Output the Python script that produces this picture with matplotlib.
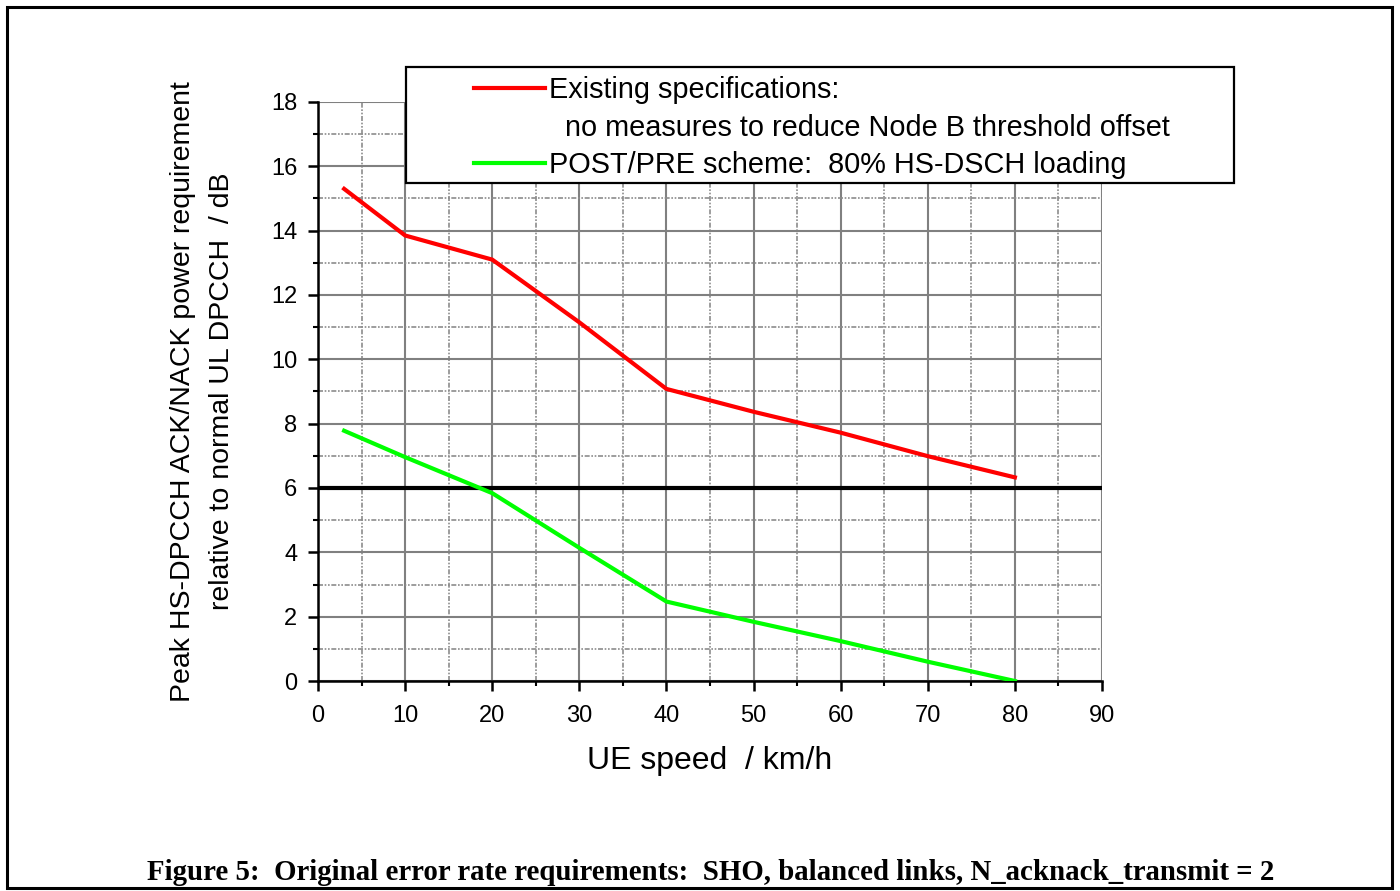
import matplotlib
matplotlib.use("Agg")
import matplotlib.pyplot as plt
from matplotlib.lines import Line2D
from matplotlib.patches import Rectangle
from matplotlib.ticker import MultipleLocator

plt.rcParams["font.family"] = ["Liberation Sans", "DejaVu Sans"]

# UE speed (km/h) and peak HS-DPCCH ACK/NACK power offset (dB)
speed = [3, 10, 20, 30, 40, 50, 60, 70, 80]
existing_spec = [15.3, 13.85, 13.1, 11.15, 9.08, 8.37, 7.72, 6.99, 6.33]
post_pre = [7.78, 6.96, 5.84, 4.14, 2.47, 1.84, 1.24, 0.6, 0.0]
threshold_db = 6

labels = [
    "Existing specifications:",
    "  no measures to reduce Node B threshold offset",
    "POST/PRE scheme:  80% HS-DSCH loading",
]
caption = ("Figure 5:  Original error rate requirements:  SHO, balanced links, "
           "N_acknack_transmit = 2")

W, H = 1400, 891
fig = plt.figure(figsize=(W / 100, H / 100), dpi=100)
ax = fig.add_axes([318 / W, 1 - 681 / H, (1102 - 318) / W, (681 - 102) / H])

ax.set_xlim(0, 90)
ax.set_ylim(0, 18)
ax.xaxis.set_major_locator(MultipleLocator(10))
ax.xaxis.set_minor_locator(MultipleLocator(5))
ax.yaxis.set_major_locator(MultipleLocator(2))
ax.yaxis.set_minor_locator(MultipleLocator(1))

ax.grid(which="major", color="#808080", lw=1.5, zorder=0)
ax.grid(which="minor", color="#8c8c8c", lw=1.2, ls=(0, (3, 1, 1, 1, 1, 1)), zorder=0)
ax.set_axisbelow(True)
# no grid lines on the outer limits
for lines in (ax.xaxis.get_gridlines(), ax.yaxis.get_gridlines()):
    lines[0].set_visible(False)
    lines[-1].set_visible(False)

for side in ("top", "right"):
    ax.spines[side].set_visible(False)
for side in ("left", "bottom"):
    ax.spines[side].set_linewidth(1.8)
ax.tick_params(which="major", direction="out", length=7, width=1.8, labelsize=17)
ax.tick_params(axis="x", which="major", pad=10)
ax.tick_params(axis="y", which="major", pad=8)
ax.tick_params(which="minor", direction="out", length=3.5, width=1.5)

ax.axhline(threshold_db, color="black", lw=3, zorder=3)
red, = ax.plot(speed, existing_spec, color="#ff0000", lw=3, zorder=4,
               solid_joinstyle="miter")
green, = ax.plot(speed, post_pre, color="#00ff00", lw=3, zorder=4,
                 solid_joinstyle="miter")

ax.set_xlabel("UE speed  / km/h", fontsize=23, labelpad=14)
ax.set_ylabel("Peak HS-DPCCH ACK/NACK power requirement\n"
              "relative to normal UL DPCCH  / dB", fontsize=20.5, labelpad=26,
              linespacing=1.62)

# legend box sits partly over the plot and partly outside it
box = Rectangle((406 / W, 1 - 183 / H), (1234 - 406) / W, (183 - 67) / H,
                transform=fig.transFigure, facecolor="white", edgecolor="black",
                lw=1.6, zorder=5)
fig.add_artist(box)
blank = Line2D([], [], color="none")
leg = fig.legend([red, blank, green], labels, loc="upper left",
                 bbox_to_anchor=(474 / W, 1 - 76 / H), frameon=False,
                 fontsize=20.8, handlelength=2.45, handletextpad=0.15,
                 labelspacing=0.33, borderpad=0, borderaxespad=0)
leg.set_zorder(6)

fig.text(711 / W, 1 - 873 / H, caption, ha="center", va="center",
         family=["Liberation Serif", "DejaVu Serif"], weight="bold", fontsize=20.8)

# outer frame around the figure
frame = Rectangle((6.5 / W, 1 - 887.5 / H), (1391.5 - 6.5) / W, (887.5 - 6.5) / H,
                  transform=fig.transFigure, fill=False, edgecolor="black", lw=2.2)
fig.add_artist(frame)

fig.savefig("out.png", dpi=100)
